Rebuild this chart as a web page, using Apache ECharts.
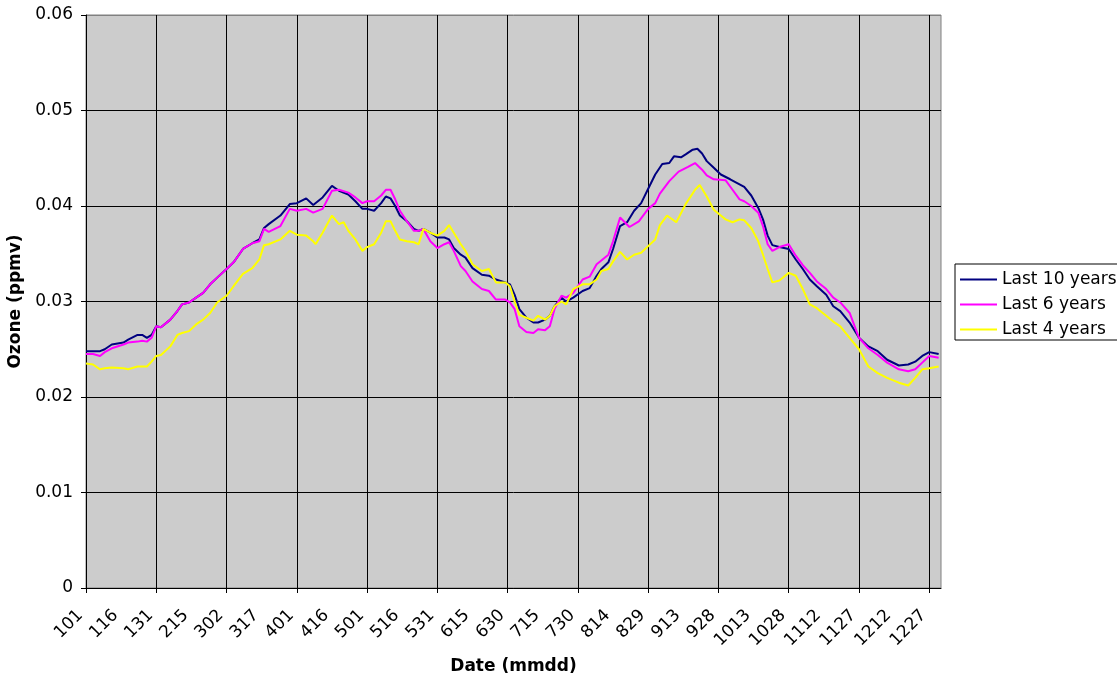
<!DOCTYPE html>
<html>
<head>
    <meta charset="utf-8">
    <title>Ozone</title>
    <script src="https://cdn.jsdelivr.net/npm/echarts@6/dist/echarts.min.js"></script>
    <style>
        html, body { margin: 0; padding: 0; background: #fff; }
        #chart { width: 1117px; height: 677px; }
    </style>
</head>
<body>
<div id="chart"></div>
<script>
    // tick labels, one every 15 days (day index 0 = Jan 1)
    var tickLabels = ['101', '116', '131', '215', '302', '317', '401', '416', '501', '516', '531', '615', '630',
        '715', '730', '814', '829', '913', '928', '1013', '1028', '1112', '1127', '1212', '1227'];

    // Last 10 years: day index / ozone (ppmv)
    var tenDays = [0, 3, 6, 8, 11, 16, 18, 22, 24, 26, 28, 30, 32, 36, 39, 41, 44, 47, 50, 53, 56, 60, 63, 67, 71, 74,
        76, 78, 83, 87, 90, 94, 97, 99, 101, 105, 108, 112, 115, 118, 120, 123, 126, 128, 130, 132, 134, 137, 140,
        142, 144, 147, 150, 153, 155, 157, 160, 162, 165, 169, 172, 175, 179, 181, 183, 185, 188, 191, 193, 196, 198,
        200, 203, 205, 208, 212, 215, 218, 220, 223, 225, 228, 231, 234, 237, 240, 243, 246, 249, 251, 254, 256, 259,
        261, 263, 265, 268, 271, 275, 278, 281, 284, 287, 289, 291, 293, 296, 300, 303, 306, 309, 312, 316, 319, 322,
        326, 330, 334, 338, 342, 347, 351, 354, 357, 360, 364];
    var tenVals = [0.0248, 0.0248, 0.0248, 0.0250, 0.0255, 0.0257, 0.0260, 0.0265, 0.0265, 0.0262, 0.0265, 0.0274,
        0.0273, 0.0281, 0.0290, 0.0297, 0.0299, 0.0304, 0.0309, 0.0318, 0.0325, 0.0334, 0.0341, 0.0355, 0.0361,
        0.0365, 0.0377, 0.0381, 0.0390, 0.0402, 0.0403, 0.0408, 0.0401, 0.0405, 0.0409, 0.0421, 0.0416, 0.0412,
        0.0405, 0.0397, 0.0397, 0.0395, 0.0403, 0.0410, 0.0408, 0.0400, 0.0390, 0.0384, 0.0376, 0.0374, 0.0376,
        0.0372, 0.0367, 0.0367, 0.0365, 0.0356, 0.0349, 0.0346, 0.0335, 0.0328, 0.0327, 0.0323, 0.0320, 0.0318,
        0.0307, 0.0292, 0.0283, 0.0278, 0.0278, 0.0281, 0.0285, 0.0295, 0.0304, 0.0300, 0.0304, 0.0311, 0.0314,
        0.0327, 0.0334, 0.0341, 0.0355, 0.0379, 0.0383, 0.0395, 0.0403, 0.0418, 0.0433, 0.0444, 0.0445, 0.0452,
        0.0451, 0.0454, 0.0459, 0.0460, 0.0455, 0.0447, 0.0440, 0.0433, 0.0428, 0.0424, 0.0420, 0.0411, 0.0398,
        0.0386, 0.0369, 0.0359, 0.0357, 0.0355, 0.0344, 0.0334, 0.0323, 0.0316, 0.0307, 0.0295, 0.0290, 0.0278,
        0.0262, 0.0253, 0.0248, 0.0239, 0.0233, 0.0234, 0.0237, 0.0243, 0.0247, 0.0245];

    // Last 6 years
    var sixDays = [0, 3, 6, 8, 11, 16, 18, 22, 24, 26, 28, 30, 32, 36, 39, 41, 44, 47, 50, 53, 56, 60, 63, 67, 71, 74,
        76, 78, 83, 87, 90, 94, 97, 101, 105, 108, 112, 115, 118, 120, 123, 126, 128, 130, 132, 134, 137, 140, 142,
        144, 147, 150, 153, 155, 157, 160, 162, 165, 169, 172, 175, 179, 181, 183, 185, 188, 191, 193, 196, 198, 200,
        203, 205, 208, 212, 215, 218, 220, 223, 225, 228, 232, 236, 240, 243, 245, 249, 253, 257, 260, 263, 265, 268,
        273, 276, 279, 281, 284, 287, 289, 291, 293, 296, 300, 303, 306, 309, 312, 316, 319, 322, 326, 330, 334, 338,
        342, 347, 351, 354, 357, 360, 364];
    var sixVals = [0.0245, 0.0245, 0.0243, 0.0247, 0.0251, 0.0255, 0.0257, 0.0258, 0.0259, 0.0258, 0.0262, 0.0274,
        0.0273, 0.0281, 0.0290, 0.0297, 0.0299, 0.0304, 0.0309, 0.0318, 0.0325, 0.0334, 0.0341, 0.0355, 0.0361,
        0.0363, 0.0376, 0.0373, 0.0379, 0.0397, 0.0395, 0.0397, 0.0393, 0.0397, 0.0416, 0.0417, 0.0414, 0.0409,
        0.0403, 0.0405, 0.0405, 0.0411, 0.0417, 0.0417, 0.0407, 0.0395, 0.0384, 0.0374, 0.0374, 0.0376, 0.0363,
        0.0356, 0.0360, 0.0362, 0.0353, 0.0337, 0.0332, 0.0321, 0.0313, 0.0311, 0.0302, 0.0302, 0.0299, 0.0292,
        0.0274, 0.0268, 0.0267, 0.0271, 0.0270, 0.0274, 0.0292, 0.0306, 0.0304, 0.0309, 0.0323, 0.0326, 0.0339,
        0.0343, 0.0349, 0.0363, 0.0388, 0.0378, 0.0384, 0.0397, 0.0403, 0.0413, 0.0426, 0.0436, 0.0441, 0.0445,
        0.0438, 0.0432, 0.0428, 0.0427, 0.0417, 0.0407, 0.0405, 0.0400, 0.0393, 0.0379, 0.0360, 0.0353, 0.0357,
        0.0360, 0.0348, 0.0338, 0.0330, 0.0321, 0.0313, 0.0304, 0.0299, 0.0288, 0.0262, 0.0251, 0.0244, 0.0236,
        0.0229, 0.0227, 0.0229, 0.0236, 0.0243, 0.0241];

    // Last 4 years
    var fourDays = [0, 3, 6, 8, 11, 16, 18, 22, 26, 28, 30, 32, 36, 39, 41, 44, 47, 50, 53, 56, 60, 63, 67, 71, 74, 76,
        78, 83, 87, 90, 94, 97, 98, 101, 105, 108, 110, 112, 115, 118, 120, 123, 126, 128, 130, 132, 134, 137, 140,
        142, 144, 147, 150, 153, 155, 157, 160, 162, 165, 169, 172, 175, 179, 181, 183, 185, 188, 191, 193, 196, 198,
        200, 203, 205, 208, 212, 215, 218, 220, 223, 225, 228, 231, 234, 237, 240, 243, 245, 248, 252, 256, 260, 262,
        265, 268, 271, 273, 276, 279, 281, 284, 287, 289, 291, 293, 296, 300, 303, 306, 309, 312, 316, 319, 322, 326,
        330, 334, 338, 342, 347, 351, 354, 357, 360, 364];
    var fourVals = [0.0235, 0.0234, 0.0229, 0.0230, 0.0231, 0.0230, 0.0229, 0.0232, 0.0232, 0.0237, 0.0243, 0.0244,
        0.0253, 0.0265, 0.0267, 0.0269, 0.0276, 0.0281, 0.0288, 0.0299, 0.0306, 0.0316, 0.0329, 0.0335, 0.0344,
        0.0359, 0.0360, 0.0365, 0.0374, 0.0370, 0.0369, 0.0363, 0.0360, 0.0372, 0.0390, 0.0381, 0.0383, 0.0374,
        0.0365, 0.0353, 0.0357, 0.0360, 0.0372, 0.0384, 0.0384, 0.0374, 0.0365, 0.0363, 0.0362, 0.0360, 0.0376,
        0.0372, 0.0369, 0.0374, 0.0380, 0.0372, 0.0360, 0.0353, 0.0339, 0.0332, 0.0334, 0.0320, 0.0320, 0.0316,
        0.0300, 0.0286, 0.0283, 0.0280, 0.0285, 0.0281, 0.0285, 0.0295, 0.0300, 0.0297, 0.0313, 0.0318, 0.0318,
        0.0323, 0.0332, 0.0334, 0.0342, 0.0352, 0.0344, 0.0349, 0.0351, 0.0358, 0.0365, 0.0380, 0.0390, 0.0383,
        0.0402, 0.0417, 0.0422, 0.0410, 0.0396, 0.0390, 0.0386, 0.0383, 0.0386, 0.0385, 0.0377, 0.0363, 0.0349,
        0.0334, 0.0320, 0.0322, 0.0330, 0.0327, 0.0313, 0.0297, 0.0293, 0.0285, 0.0279, 0.0274, 0.0262, 0.0250,
        0.0232, 0.0225, 0.0220, 0.0215, 0.0212, 0.0220, 0.0229, 0.0230, 0.0232];

    function pairs(days, vals) {
        return days.map(function (d, i) { return [d, vals[i]]; });
    }

    // label every 15 days, tick + gridline every 30 days
    var labelDays = tickLabels.map(function (t, i) { return i * 15; });
    var gridDays = labelDays.filter(function (d) { return d % 30 === 0; });

    var font = 'DejaVu Sans';
    var fs = 17;
    var chart = echarts.init(document.getElementById('chart'));

    var option = {
        animation: false,
        textStyle: { fontFamily: font, color: '#000' },
        grid: {
            left: 86, right: 176, top: 15, bottom: 89,
            outerBoundsMode: 'none', containLabel: false,
            show: true, backgroundColor: '#cccccc', borderColor: '#808080', borderWidth: 1
        },
        legend: {
            orient: 'vertical',
            left: 955, top: 264,
            backgroundColor: '#fff',
            borderColor: '#000', borderWidth: 1, borderRadius: 0,
            padding: [7, 1, 2, 5],
            icon: 'rect',
            itemWidth: 37, itemHeight: 2, itemGap: 8,
            textStyle: { fontFamily: font, fontSize: fs, lineHeight: 17, color: '#000' },
            data: ['Last 10 years', 'Last 6 years', 'Last 4 years']
        },
        xAxis: [{
            type: 'value', min: 0, max: 365, interval: 15,
            name: 'Date (mmdd)', nameLocation: 'middle', nameGap: 70,
            nameTextStyle: { fontFamily: font, fontSize: fs, fontWeight: 'bold', color: '#000' },
            axisLine: { show: true, lineStyle: { color: '#000', width: 1 } },
            axisTick: { show: false },
            splitLine: { show: false },
            axisLabel: {
                rotate: 45, margin: 19, padding: [0, 8, 0, 0],
                fontSize: fs, fontFamily: font, color: '#000',
                customValues: labelDays,
                formatter: function (v) {
                    var i = labelDays.indexOf(v);
                    return i >= 0 ? tickLabels[i] : '';
                }
            }
        }, {
            type: 'value', min: 0, max: 365, interval: 30, position: 'bottom',
            axisLine: { show: false },
            axisLabel: { show: false },
            axisTick: { show: true, inside: false, length: 5, customValues: gridDays, lineStyle: { color: '#000' } },
            splitLine: { show: true, lineStyle: { color: '#000', width: 1 } }
        }],
        yAxis: {
            type: 'value', min: 0, max: 0.06, interval: 0.01,
            name: 'Ozone (ppmv)', nameLocation: 'middle', nameGap: 54, nameRotate: 90,
            nameTextStyle: { fontFamily: font, fontSize: fs, fontWeight: 'bold', color: '#000' },
            axisLine: { show: true, lineStyle: { color: '#000', width: 1 } },
            axisTick: { show: true, length: 5, lineStyle: { color: '#000' } },
            splitLine: {
                show: true,
                lineStyle: { color: ['#000', '#000', '#000', '#000', '#000', '#000', '#808080'], width: 1 }
            },
            axisLabel: {
                margin: 13, fontSize: fs, fontFamily: font, color: '#000',
                formatter: function (v) { return v === 0 ? '0' : v.toFixed(2); }
            }
        },
        series: [{
            name: 'Last 10 years', type: 'line', xAxisIndex: 0, symbol: 'none',
            data: pairs(tenDays, tenVals),
            lineStyle: { color: '#000080', width: 2 }, itemStyle: { color: '#000080' }
        }, {
            name: 'Last 6 years', type: 'line', xAxisIndex: 0, symbol: 'none',
            data: pairs(sixDays, sixVals),
            lineStyle: { color: '#ff00ff', width: 2 }, itemStyle: { color: '#ff00ff' }
        }, {
            name: 'Last 4 years', type: 'line', xAxisIndex: 0, symbol: 'none',
            data: pairs(fourDays, fourVals),
            lineStyle: { color: '#ffff00', width: 2 }, itemStyle: { color: '#ffff00' }
        }]
    };

    chart.setOption(option);
</script>
</body>
</html>
